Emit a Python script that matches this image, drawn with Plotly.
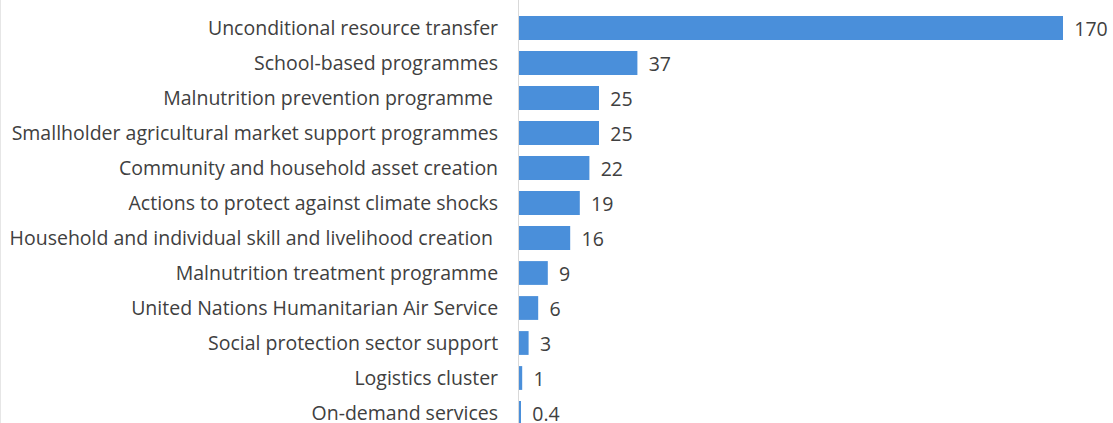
import plotly.graph_objects as go

categories = [
    "Unconditional resource transfer",
    "School-based programmes",
    "Malnutrition prevention programme ",
    "Smallholder agricultural market support programmes",
    "Community and household asset creation",
    "Actions to protect against climate shocks",
    "Household and individual skill and livelihood creation ",
    "Malnutrition treatment programme",
    "United Nations Humanitarian Air Service",
    "Social protection sector support",
    "Logistics cluster",
    "On-demand services",
]
values = [170, 37, 25, 25, 22, 19, 16, 9, 6, 3, 1, 0.4]
value_labels = ["170", "37", "25", "25", "22", "19", "16", "9", "6", "3", "1", "0.4"]

W, H = 1113, 423
L = 519
px_per_unit = 3.2
plot_w = W - L

fig = go.Figure(go.Bar(
    x=values,
    y=categories,
    orientation="h",
    marker=dict(color="#4A8FDA", line=dict(width=0)),
    text=value_labels,
    texttemplate=" \u2009%{text}",
    textposition="outside",
    constraintext="none",
    textfont=dict(family="Open Sans", size=19.5, color="#404040"),
    cliponaxis=False,
    width=0.68,
))

fig.update_layout(
    width=W, height=H,
    margin=dict(l=L, r=0, t=0, b=0, autoexpand=False),
    paper_bgcolor="white",
    plot_bgcolor="white",
    showlegend=False,
    font=dict(family="Open Sans", size=19.5, color="#404040"),
)
fig.update_xaxes(range=[0, plot_w / px_per_unit], visible=False, automargin=False)
fig.update_yaxes(
    type="category",
    automargin=False,
    range=[11.2857, -0.8],
    showline=True, linecolor="#d9d9d9", linewidth=1,
    showgrid=False, zeroline=False,
    ticks="", ticklabelstandoff=16,
    tickfont=dict(family="Open Sans", size=19.5, color="#404040"),
)
fig.add_shape(type="line", xref="paper", yref="paper",
              x0=-L / plot_w + 0.0005, x1=-L / plot_w + 0.0005, y0=0, y1=1,
              line=dict(color="#e0e0e0", width=1))

fig.write_html("out.html")
